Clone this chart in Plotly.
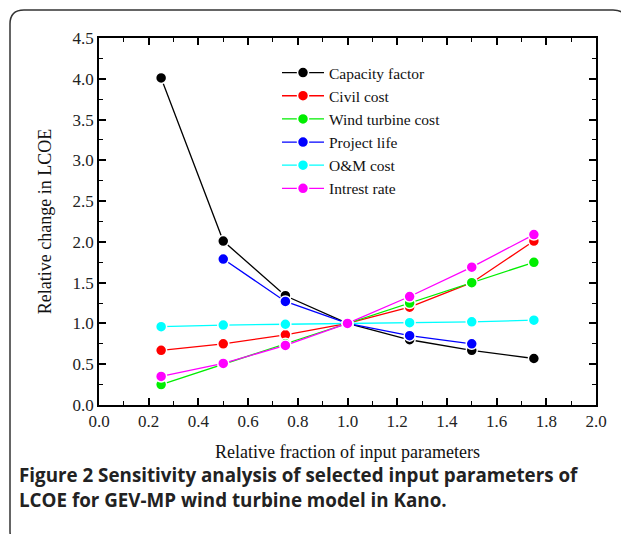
import plotly.graph_objects as go

x_all = [0.25, 0.5, 0.75, 1.0, 1.25, 1.5, 1.75]
x_life = [0.5, 0.75, 1.0, 1.25, 1.5]

capacity_factor = [4.01, 2.01, 1.34, 1.0, 0.80, 0.67, 0.57]
civil_cost = [0.67, 0.75, 0.86, 1.0, 1.20, 1.50, 2.01]
wind_turbine_cost = [0.25, 0.50, 0.75, 1.0, 1.25, 1.50, 1.75]
project_life = [1.79, 1.27, 1.0, 0.85, 0.75]
om_cost = [0.96, 0.98, 0.99, 1.0, 1.01, 1.02, 1.04]
interest_rate = [0.35, 0.51, 0.73, 1.0, 1.33, 1.69, 2.09]

series = [
    ("Capacity factor", x_all, capacity_factor, "#000000"),
    ("Civil cost", x_all, civil_cost, "#ff0000"),
    ("Wind turbine cost", x_all, wind_turbine_cost, "#00ee00"),
    ("Project life", x_life, project_life, "#0000ff"),
    ("O&M cost", x_all, om_cost, "#00ffff"),
    ("Intrest rate", x_all, interest_rate, "#ff00ff"),
]

S = 8  # page body offset
W, H = 629 - S, 534 - S
# plot area in reference pixel coordinates
PL, PR, PT, PB = 99, 596, 38, 405
L, R, T, B = PL - S, W - (PR - S), PT - S, H - (PB - S)
pw, ph = PR - PL, PB - PT

fig = go.Figure()
for name, xs, ys, c in series:
    fig.add_trace(go.Scatter(
        x=xs, y=ys, name=name, mode="lines+markers",
        line=dict(color=c, width=1.3),
        marker=dict(color=c, size=11, line=dict(color="white", width=1.5)),
    ))

serif = "Times New Roman, Liberation Serif, serif"
tick_font = dict(family=serif, size=17, color="#222")
axis_common = dict(
    showline=True, linecolor="black", linewidth=1.5, mirror="ticks",
    ticks="inside", ticklen=7, tickwidth=1.5, tickcolor="black",
    showgrid=False, zeroline=False,
)
fig.update_xaxes(
    range=[0, 2.0], dtick=0.2, tick0=0, tickformat=".1f",
    minor=dict(ticks="inside", ticklen=4, tickwidth=1.2, dtick=0.1, tickcolor="black"),
    title=dict(text="Relative fraction of input parameters",
               font=dict(family=serif, size=18, color="#111"), standoff=15),
    **axis_common,
)
fig.update_yaxes(
    range=[0, 4.5], dtick=0.5, tick0=0, tickformat=".1f",
    minor=dict(ticks="inside", ticklen=4, tickwidth=1.2, dtick=0.25, tickcolor="black"),
    title=dict(text="Relative change in LCOE",
               font=dict(family=serif, size=18, color="#111"), standoff=16),
    **axis_common,
)
fig.update_xaxes(tickfont=tick_font)
fig.update_yaxes(tickfont=tick_font)

def px(xp):
    return (xp - PL) / pw

def py(yp):
    return (PB - yp) / ph

# rounded frame (reference pixel coords)
x0, x1, y0, y1, r = 10, 627, 10, 545, 14
path = (
    f"M {px(x0)},{py(y0 + r)} "
    f"Q {px(x0)},{py(y0)} {px(x0 + r)},{py(y0)} "
    f"L {px(x1 - r)},{py(y0)} "
    f"Q {px(x1)},{py(y0)} {px(x1)},{py(y0 + r)} "
    f"L {px(x1)},{py(y1 - r)} "
    f"Q {px(x1)},{py(y1)} {px(x1 - r)},{py(y1)} "
    f"L {px(x0 + r)},{py(y1)} "
    f"Q {px(x0)},{py(y1)} {px(x0)},{py(y1 - r)} Z"
)
fig.add_shape(type="path", path=path, xref="paper", yref="paper",
              line=dict(color="#333", width=1.5), layer="below")

sans = "Open Sans"
fig.add_annotation(
    x=px(17), y=py(475), xref="paper", yref="paper", xanchor="left", yanchor="middle",
    text="<b>Figure 2 Sensitivity analysis of selected input parameters of</b>",
    showarrow=False, font=dict(family=sans, size=18.8, color="#222"), align="left",
)
fig.add_annotation(
    x=px(17), y=py(500), xref="paper", yref="paper", xanchor="left", yanchor="middle",
    text="<b>LCOE for GEV-MP wind turbine model in Kano.</b>",
    showarrow=False, font=dict(family=sans, size=18.8, color="#222"), align="left",
)

fig.update_layout(
    width=W, height=H,
    margin=dict(l=L, r=R, t=T, b=B),
    plot_bgcolor="white", paper_bgcolor="white",
    font=dict(family=serif, color="#111"),
    showlegend=True,
    legend=dict(
        x=px(277), y=py(56), xanchor="left", yanchor="top",
        bgcolor="rgba(0,0,0,0)", borderwidth=0,
        font=dict(family=serif, size=15.5, color="#111"),
        itemwidth=42, tracegroupgap=0,
    ),
)

fig.write_html("out.html")
